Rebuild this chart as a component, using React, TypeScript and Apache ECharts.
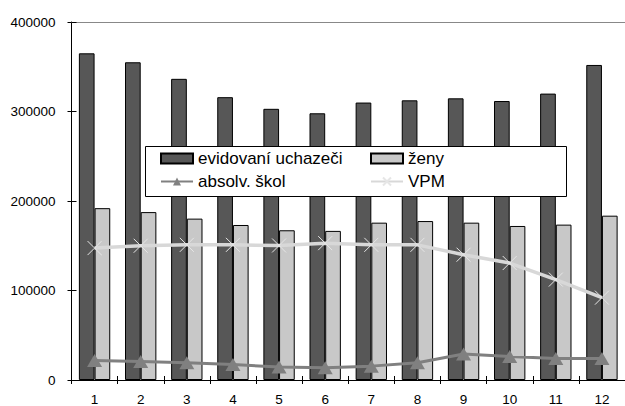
import React, { useEffect, useRef } from "react";
import * as echarts from "echarts";

const categories = ["1", "2", "3", "4", "5", "6", "7", "8", "9", "10", "11", "12"];
const evidovani = [365000, 355000, 336500, 316000, 303000, 298000, 310000, 312500, 314700, 311700, 320000, 352000];
const zeny = [192000, 187600, 180300, 173200, 167300, 166600, 175800, 177600, 175800, 172100, 173600, 183600];
const absolv = [21800, 20700, 19200, 17400, 14400, 13700, 15500, 19200, 29100, 26200, 24000, 24000];
const vpm = [147400, 150000, 151000, 151000, 150300, 152900, 151000, 151000, 140000, 130700, 112200, 92000];
const yTicks = [0, 100000, 200000, 300000, 400000];

const FONT = "Liberation Sans, Arial, sans-serif";
const X_SYMBOL = "path://M0,0L10,10M10,0L0,10";

export default function App() {
  const ref = useRef<HTMLDivElement>(null);
  useEffect(() => {
    document.body.style.margin = "0";
    const chart = echarts.init(ref.current!, undefined, { renderer: "svg" });
    const legendText = { fontSize: 17, fontFamily: FONT, color: "#000" };
    const legendBase = {
      orient: "vertical",
      top: 150,
      padding: 0,
      itemWidth: 32,
      itemHeight: 10,
      itemGap: 6,
      textStyle: legendText,
    };
    chart.setOption({
      animation: false,
      backgroundColor: "#fff",
      grid: { left: 71.5, right: -2, top: 22, bottom: 23 },
      legend: [
        {
          ...legendBase,
          left: 160,
          data: [
            { name: "evidovaní uchazeči", icon: "rect" },
            { name: "absolv. škol" },
          ],
        },
        {
          ...legendBase,
          left: 370,
          data: [{ name: "ženy", icon: "rect" }, { name: "VPM" }],
        },
      ],
      graphic: [
        {
          type: "rect",
          left: 145,
          top: 146,
          shape: { width: 421, height: 50 },
          style: { fill: "#fff", stroke: "#000", lineWidth: 1 },
          z: 4,
        },
      ],
      xAxis: [
        {
          type: "category",
          data: categories,
          position: "bottom",
          axisLine: { lineStyle: { color: "#000", width: 1 } },
          axisTick: { show: true, inside: false, length: 4, lineStyle: { color: "#000" } },
          axisLabel: { color: "#000", fontSize: 13.5, fontFamily: FONT, margin: 12 },
          splitLine: { show: false },
        },
        {
          type: "category",
          data: categories,
          position: "bottom",
          axisLine: { show: false },
          axisTick: { show: true, inside: true, length: 4, lineStyle: { color: "#000" } },
          axisLabel: { show: false },
          splitLine: { show: false },
        },
        {
          type: "category",
          data: categories,
          position: "top",
          axisLine: { show: true, lineStyle: { color: "#888", width: 1 } },
          axisTick: { show: false },
          axisLabel: { show: false },
        },
      ],
      yAxis: [
        {
          type: "value",
          min: 0,
          max: 400000,
          interval: 100000,
          position: "left",
          axisLine: { show: true, lineStyle: { color: "#000", width: 1 } },
          axisTick: { show: true, inside: false, length: 4, lineStyle: { color: "#000" } },
          axisLabel: {
            color: "#000",
            fontSize: 13.5,
            fontFamily: FONT,
            margin: 16,
            formatter: (v: number) => (yTicks.includes(v) ? String(v) : ""),
          },
          splitLine: { show: false },
        },
        {
          type: "value",
          min: 0,
          max: 400000,
          interval: 100000,
          position: "left",
          axisLine: { show: false },
          axisTick: { show: true, inside: true, length: 5, lineStyle: { color: "#000" } },
          axisLabel: { show: false },
          splitLine: { show: false },
        },
      ],
      series: [
        {
          name: "evidovaní uchazeči",
          type: "bar",
          data: evidovani,
          barGap: "0%",
          barCategoryGap: "32%",
          itemStyle: { color: "#575757", borderColor: "#000", borderWidth: 1 },
          z: 2,
        },
        {
          name: "ženy",
          type: "bar",
          data: zeny,
          itemStyle: { color: "#c8c8c8", borderColor: "#000", borderWidth: 1 },
          z: 2,
        },
        {
          name: "absolv. škol",
          type: "line",
          data: absolv,
          symbol: "triangle",
          symbolSize: [15, 13],
          lineStyle: { color: "#808080", width: 3 },
          itemStyle: { color: "#808080" },
          z: 3,
        },
        {
          name: "VPM",
          type: "line",
          data: vpm,
          symbol: X_SYMBOL,
          symbolSize: 14,
          lineStyle: { color: "#d8d8d8", width: 3.5 },
          itemStyle: { color: "none", borderColor: "#e6e6e6", borderWidth: 1 },
          z: 3,
        },
      ],
    });
    return () => chart.dispose();
  }, []);
  return (
    <div
      ref={ref}
      style={{ position: "absolute", left: 0, top: 0, width: 625, height: 406 }}
    />
  );
}
